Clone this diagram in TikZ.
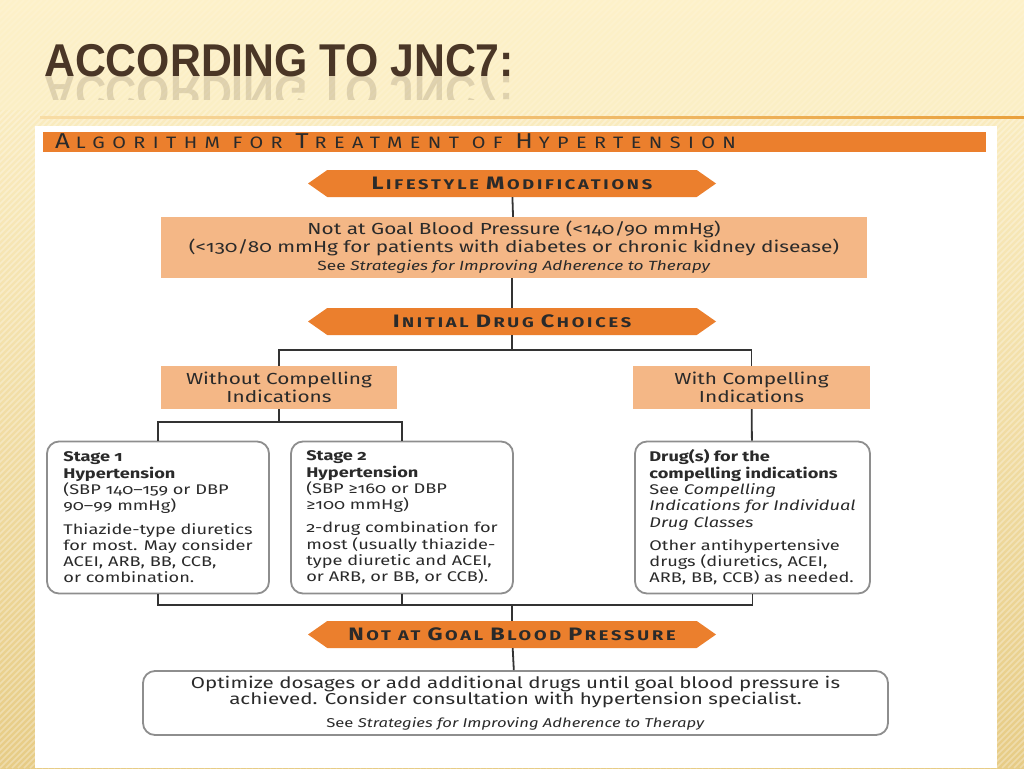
\documentclass[tikz,border=0pt]{standalone}
\usepackage{fontspec}
\setmainfont{Fira Sans}[Numbers=OldStyle, FakeStretch=1.3]
\newfontfamily\titlefont{Liberation Sans}
\newfontfamily\headfont{Fira Sans}[LetterSpace=45, FakeStretch=1.2]
\newfontfamily\bannerfont{Fira Sans}[LetterSpace=20, FakeStretch=1.3]
\usetikzlibrary{shapes.symbols, calc, positioning}
\definecolor{slideCream}{HTML}{FDF1C9}
\definecolor{slideGold}{HTML}{E7CC86}
\definecolor{titleBrown}{HTML}{4A3626}
\definecolor{ruleOrange}{HTML}{E9A03C}
\definecolor{jncOrange}{HTML}{EB7F2D}
\definecolor{jncPeach}{HTML}{F4B786}
\definecolor{jncLine}{HTML}{333333}
\definecolor{jncGray}{HTML}{8E8E8E}
\definecolor{jncText}{HTML}{2A2A2A}
\newcommand{\capfirst}[1]{{\fontsize{18}{18}\selectfont #1}\kern2.5pt}
\newcommand{\headcap}[1]{{\fontsize{21.5}{22}\selectfont #1}\kern6pt}
\tikzset{
  banner/.style={signal, signal to=west and east, signal pointer angle=70,
                 fill=jncOrange, minimum width=408pt, minimum height=27pt,
                 inner sep=0pt, text=jncText,
                 font=\bannerfont\bfseries\fontsize{14}{14}\selectfont},
  peachbox/.style={rectangle, fill=jncPeach, inner sep=0pt, align=center,
                   text=jncText, font=\fontsize{16}{18}\selectfont},
  stagebox/.style={rectangle, rounded corners=12pt, draw=jncGray,
                   line width=1.8pt, fill=white, inner sep=0pt, align=left,
                   text=jncText, minimum width=222pt, minimum height=152pt,
                   font=\fontsize{14}{16.3}\selectfont},
  link/.style={draw=jncLine, line width=1.8pt},
}
\newcommand{\seetext}[1]{{\fontsize{#1}{14}\selectfont See \textit{Strategies for Improving Adherence to Therapy}}}
\begin{document}
\begin{tikzpicture}[x=1pt, y=-1pt]
  \useasboundingbox (0,0) rectangle (1024,768);
  % slide background
  \shade[top color=slideCream, bottom color=slideGold] (0,0) rectangle (1024,768);
  \begin{scope}
    \clip (0,0) rectangle (1024,768);
    \foreach \s in {-768,-762,...,1024}
      \draw[white, line width=1.5pt, opacity=.3] (\s,768) -- (\s+768,0);
  \end{scope}
  \fill[slideCream, opacity=.6] (0,0) rectangle (1024,110);
  \node[anchor=base west, inner sep=0pt, text=titleBrown] (title) at (44,76)
    {\scalebox{0.93}[1]{\titlefont\bfseries\fontsize{46}{46}\selectfont ACCORDING TO JNC7:}};
  \begin{scope}
    \clip (40,76) rectangle (540,99);
    \node[anchor=base west, inner sep=0pt, text=titleBrown, opacity=.16,
          yscale=-1, transform shape] at (44,76)
      {\scalebox{0.93}[1]{\titlefont\bfseries\fontsize{46}{46}\selectfont ACCORDING TO JNC7:}};
  \end{scope}
  \shade[left color=ruleOrange!25!slideCream, right color=ruleOrange]
    (40,116) rectangle (1024,118.5);

  % white panel and header
  \fill[white] (35,126) rectangle (997,768);
  \fill[jncOrange] (43,132) rectangle (986,152);
  \node[anchor=base west, inner sep=0pt, text=jncText] (head) at (55,148.5)
    {\headfont\fontsize{16.5}{16}\selectfont \headcap{A}LGORITHM FOR \headcap{T}REATMENT OF \headcap{H}YPERTENSION};

  % flow chart
  \node[banner] (lifestyle) at (512,183.5)
    {\capfirst{L}IFESTYLE \capfirst{M}ODIFICATIONS};
  \node[peachbox, minimum width=706pt, minimum height=61pt] (goal) at (514,247.5)
    {Not at Goal Blood Pressure (<140/90 mmHg)\\
     (<130/80 mmHg for patients with diabetes or chronic kidney disease)\\
     \seetext{13.3}};
  \node[banner] (init) at (512,321.5)
    {\capfirst{I}NITIAL \capfirst{D}RUG \capfirst{C}HOICES};
  \node[peachbox, minimum width=236pt, minimum height=43pt] (without) at (279,387.5)
    {Without Compelling\\Indications};
  \node[peachbox, minimum width=237pt, minimum height=43pt] (with) at (751.5,387.5)
    {With Compelling\\Indications};
  \node[stagebox] (stageone) at (158,517.5)
    {\textbf{Stage 1}\\\textbf{Hypertension}\\(SBP 140--159 or DBP\\90--99 mmHg)\\[7pt]
     Thiazide-type diuretics\\for most. May consider\\ACEI, ARB, BB, CCB,\\or combination.};
  \node[stagebox] (stagetwo) at (402,517.5)
    {\textbf{Stage 2}\\\textbf{Hypertension}\\(SBP ≥160 or DBP\\≥100 mmHg)\\[7pt]
     2-drug combination for\\most (usually thiazide-\\type diuretic and ACEI,\\or ARB, or BB, or CCB).};
  \node[stagebox, minimum width=235pt] (drugs) at (752.5,517.5)
    {\textbf{Drug(s) for the}\\\textbf{compelling indications}\\See \textit{Compelling}\\
     \textit{Indications for Individual}\\\textit{Drug Classes}\\[7pt]
     Other antihypertensive\\drugs (diuretics, ACEI,\\ARB, BB, CCB) as needed.};
  \node[banner] (notgoal) at (512,634.5)
    {\capfirst{N}OT AT \capfirst{G}OAL \capfirst{B}LOOD \capfirst{P}RESSURE};
  \node[stagebox, align=center, minimum width=745pt, minimum height=64pt,
        font=\fontsize{15.8}{16.5}\selectfont] (optimize) at (515.5,703)
    {Optimize dosages or add additional drugs until goal blood pressure is\\
     achieved. Consider consultation with hypertension specialist.\\[6pt]
     \seetext{12.8}};

  \coordinate (splitA) at (512,350);
  \coordinate (splitB) at (279,422);
  \coordinate (joinC) at (512,605);
  \draw[link] (lifestyle) -- (goal);
  \draw[link] (goal.south -| init.north) -- (init);
  \draw[link] (init) -- (splitA);
  \draw[link] (without.north) |- (splitA) -| (with.north);
  \draw[link] (without) -- (splitB);
  \draw[link] (stageone.north) |- (splitB) -| (stagetwo.north);
  \draw[link] (with) -- (drugs);
  \draw[link] (stageone.south) |- (drugs.south |- joinC) -- (drugs.south);
  \draw[link] (stagetwo.south) -- (stagetwo.south |- joinC);
  \draw[link] (joinC) -- (notgoal);
  \draw[link] (notgoal) -- (optimize);
\end{tikzpicture}
\end{document}
